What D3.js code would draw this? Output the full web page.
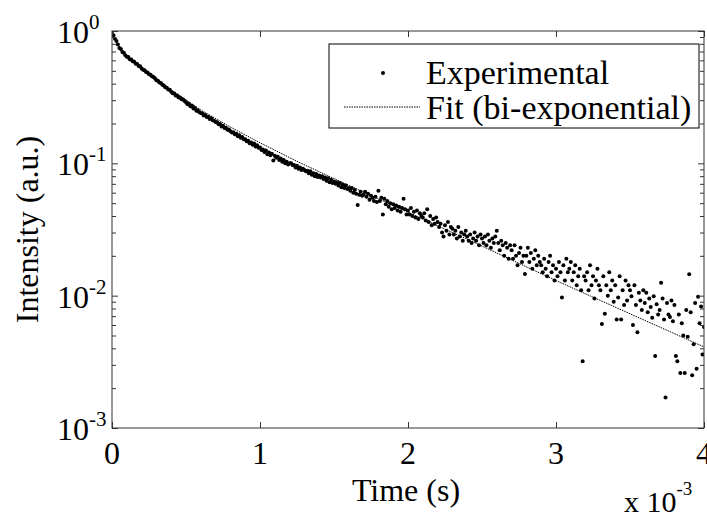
<!DOCTYPE html>
<html>
<head>
<meta charset="utf-8">
<script src="https://d3js.org/d3.v7.min.js"></script>
<style>
  body { margin: 0; background: #fff; }
  text { font-family: "Liberation Serif", "Times New Roman", serif; fill: #000; }
  .tick line { stroke: #333; }
</style>
</head>
<body>
<svg width="707" height="517"></svg>
<script>
// measured decay, one sample every 10 microseconds starting at t = 0
var sampleStep = 1e-5;
var intensity = [
  0.99, 0.93, 0.875, 0.84, 0.79, 0.745, 0.73, 0.695, 0.685, 0.655,
  0.64, 0.635, 0.612, 0.61, 0.59, 0.585, 0.565, 0.562, 0.545, 0.542,
  0.52, 0.51, 0.505, 0.49, 0.485, 0.472, 0.468, 0.455, 0.45, 0.44,
  0.425, 0.42, 0.408, 0.404, 0.392, 0.388, 0.376, 0.372, 0.362, 0.36,
  0.348, 0.338, 0.337, 0.326, 0.325, 0.315, 0.315, 0.305, 0.304, 0.296,
  0.29, 0.28, 0.281, 0.27, 0.272, 0.26, 0.262, 0.25, 0.252, 0.243,
  0.24, 0.238, 0.23, 0.232, 0.224, 0.225, 0.216, 0.219, 0.212, 0.21,
  0.205, 0.204, 0.197, 0.198, 0.19, 0.192, 0.185, 0.186, 0.179, 0.18,
  0.175, 0.171, 0.172, 0.166, 0.167, 0.16, 0.163, 0.156, 0.158, 0.152,
  0.152, 0.147, 0.148, 0.142, 0.144, 0.138, 0.141, 0.134, 0.137, 0.131,
  0.132, 0.126, 0.127, 0.122, 0.125, 0.117, 0.121, 0.115, 0.118, 0.105,
  0.114, 0.11, 0.112, 0.106, 0.109, 0.103, 0.106, 0.1, 0.103, 0.098,
  0.1, 0.1, 0.097, 0.097, 0.093, 0.096, 0.091, 0.093, 0.089, 0.091,
  0.089, 0.087, 0.088, 0.084, 0.087, 0.082, 0.084, 0.08, 0.083, 0.079,
  0.081, 0.078, 0.08, 0.076, 0.078, 0.074, 0.077, 0.072, 0.075, 0.071,
  0.073, 0.07, 0.072, 0.068, 0.071, 0.066, 0.069, 0.065, 0.068, 0.064,
  0.065, 0.062, 0.065, 0.06, 0.063, 0.059, 0.0484, 0.058, 0.061, 0.057,
  0.058, 0.061, 0.056, 0.059, 0.053, 0.057, 0.055, 0.052, 0.056, 0.051,
  0.062, 0.052, 0.055, 0.041, 0.054, 0.049, 0.052, 0.047, 0.05, 0.045,
  0.049, 0.046, 0.048, 0.044, 0.047, 0.043, 0.046, 0.054, 0.045, 0.041,
  0.044, 0.041, 0.046, 0.04, 0.043, 0.039, 0.044, 0.038, 0.042, 0.04,
  0.039, 0.042, 0.037, 0.045, 0.036, 0.04, 0.034, 0.038, 0.035, 0.039,
  0.036, 0.033, 0.035, 0.03, 0.028, 0.034, 0.031, 0.036, 0.029, 0.033,
  0.032, 0.029, 0.031, 0.027, 0.033, 0.028, 0.030, 0.026, 0.029, 0.031,
  0.028, 0.026, 0.029, 0.025, 0.027, 0.03, 0.026, 0.028, 0.024, 0.029,
  0.027, 0.025, 0.028, 0.024, 0.029, 0.026, 0.023, 0.027, 0.025, 0.028,
  0.031, 0.025, 0.022, 0.026, 0.024, 0.02, 0.025, 0.023, 0.019, 0.024,
  0.022, 0.019, 0.024, 0.02, 0.017, 0.021, 0.023, 0.018, 0.02, 0.0146,
  0.02, 0.023, 0.018, 0.021, 0.016, 0.019, 0.022, 0.017, 0.02, 0.018,
  0.017, 0.015, 0.019, 0.016, 0.014, 0.018, 0.02, 0.015, 0.017, 0.013,
  0.016, 0.014, 0.018, 0.015, 0.0097, 0.017, 0.013, 0.019, 0.015, 0.016,
  0.018, 0.013, 0.015, 0.017, 0.012, 0.014, 0.016, 0.011, 0.0032, 0.014,
  0.013, 0.015, 0.011, 0.017, 0.012, 0.014, 0.0095, 0.013, 0.016, 0.012,
  0.011, 0.0061, 0.014, 0.0073, 0.012, 0.01, 0.015, 0.011, 0.013, 0.009,
  0.012, 0.0066, 0.0097, 0.014, 0.0066, 0.011, 0.0085, 0.013, 0.0092, 0.012,
  0.011, 0.0099, 0.006, 0.012, 0.0085, 0.0053, 0.0105, 0.0092, 0.0078, 0.011,
  0.0088, 0.0105, 0.0075, 0.0095, 0.0082, 0.0068, 0.0099, 0.0035, 0.0086, 0.0072,
  0.0078, 0.0125, 0.0095, 0.0066, 0.0017, 0.0088, 0.0072, 0.0069, 0.0092, 0.0064,
  0.0085, 0.0035, 0.0032, 0.0072, 0.0026, 0.0062, 0.005, 0.0026, 0.0078, 0.0049,
  0.0145, 0.0075, 0.0025, 0.0043, 0.0088, 0.0028, 0.0098, 0.0062, 0.0083, 0.0036,
  0.0058
];

// bi-exponential fit
var fitTime = [0, 0.02e-3, 0.05e-3, 0.1e-3, 0.15e-3, 0.2e-3, 0.3e-3, 0.4e-3, 0.5e-3, 0.6e-3,
               0.8e-3, 1.0e-3, 1.25e-3, 1.5e-3, 2.0e-3, 2.5e-3, 3.0e-3, 3.5e-3, 4.0e-3];
var fitValue = [1, 0.88, 0.75, 0.646, 0.578, 0.525, 0.437, 0.359, 0.302, 0.253,
                0.188, 0.143, 0.1035, 0.0767, 0.0427, 0.0237, 0.013, 0.0073, 0.0041];

var xTicks = [0, 1e-3, 2e-3, 3e-3, 4e-3];
var xTickLabels = ["0", "1", "2", "3", "4"];
var yTicks = [1, 1e-1, 1e-2, 1e-3];
var yTickExponents = ["0", "-1", "-2", "-3"];
var legendLabels = ["Experimental", "Fit (bi-exponential)"];

var plotLeft = 112, plotRight = 704, plotTop = 31, plotBottom = 428;
var fontSize = 32, supSize = 21;
var svg = d3.select("svg");

var x = d3.scaleLinear().domain([0, 4e-3]).range([plotLeft, plotRight]);
var y = d3.scaleLog().domain([1e-3, 1]).range([plotBottom, plotTop]);

var points = intensity.map(function(v, i) { return [i * sampleStep, v]; });

var minorTicks = [];
[1e-3, 1e-2, 1e-1].forEach(function(d) {
  for (var k = 2; k <= 9; k++) minorTicks.push(k * d);
});

svg.append("clipPath").attr("id", "plot")
  .append("rect").attr("x", plotLeft).attr("y", plotTop)
  .attr("width", plotRight - plotLeft).attr("height", plotBottom - plotTop);

// data
svg.append("g").attr("clip-path", "url(#plot)")
  .selectAll("circle")
  .data(points)
  .enter()
  .append("circle")
  .attr("cx", function(d) { return x(d[0]); })
  .attr("cy", function(d) { return y(d[1]); })
  .attr("r", 2)
  .attr("fill", "#000");

var line = d3.line()
  .x(function(d) { return x(d[0]); })
  .y(function(d) { return y(d[1]); });

svg.append("path")
  .datum(fitTime.map(function(t, i) { return [t, fitValue[i]]; }))
  .attr("clip-path", "url(#plot)")
  .attr("d", line)
  .attr("fill", "none")
  .attr("stroke", "#000")
  .attr("stroke-width", 1)
  .attr("stroke-dasharray", "1.5,1");

// axes, ticks pointing inward on all four sides
function clean(g) {
  g.select(".domain").remove();
  g.selectAll("text").remove();
}
svg.append("g").attr("transform", "translate(0," + plotBottom + ")")
  .call(d3.axisBottom(x).tickValues(xTicks).tickSize(-6)).call(clean);
svg.append("g").attr("transform", "translate(0," + plotTop + ")")
  .call(d3.axisTop(x).tickValues(xTicks).tickSize(-6)).call(clean);
svg.append("g").attr("transform", "translate(" + plotLeft + ",0)")
  .call(d3.axisLeft(y).tickValues(yTicks).tickSize(-6)).call(clean);
svg.append("g").attr("transform", "translate(" + plotRight + ",0)")
  .call(d3.axisRight(y).tickValues(yTicks).tickSize(-6)).call(clean);
svg.append("g").attr("transform", "translate(" + plotLeft + ",0)")
  .call(d3.axisLeft(y).tickValues(minorTicks).tickSize(-4)).call(clean);
svg.append("g").attr("transform", "translate(" + plotRight + ",0)")
  .call(d3.axisRight(y).tickValues(minorTicks).tickSize(-4)).call(clean);

svg.append("rect").attr("x", plotLeft).attr("y", plotTop)
  .attr("width", plotRight - plotLeft).attr("height", plotBottom - plotTop)
  .attr("fill", "none").attr("stroke", "#333").attr("stroke-width", 1);

// tick labels
svg.selectAll(".xlab").data(xTicks).enter().append("text")
  .attr("x", function(d) { return x(d); })
  .attr("y", plotBottom + 36)
  .attr("text-anchor", "middle")
  .attr("font-size", fontSize)
  .text(function(d, i) { return xTickLabels[i]; });

var ylab = svg.selectAll(".ylab").data(yTicks).enter().append("text")
  .attr("x", 57)
  .attr("y", function(d) { return y(d) + 12; })
  .attr("font-size", fontSize);
ylab.append("tspan").text("10");
ylab.append("tspan").attr("dy", -14).attr("font-size", supSize)
  .text(function(d, i) { return yTickExponents[i]; });

// axis titles
svg.append("text")
  .attr("x", 406).attr("y", 501)
  .attr("text-anchor", "middle").attr("font-size", fontSize)
  .text("Time (s)");

svg.append("text")
  .attr("transform", "translate(38," + ((plotTop + plotBottom) / 2) + ") rotate(-90)")
  .attr("text-anchor", "middle").attr("font-size", fontSize)
  .text("Intensity (a.u.)");

var mult = svg.append("text").attr("x", 624).attr("y", 512).attr("font-size", 30);
mult.append("tspan").text("x 10");
mult.append("tspan").attr("dy", -17).attr("font-size", 19).text("-3");

// legend
var lg = svg.append("g");
lg.append("rect").attr("x", 329).attr("y", 44).attr("width", 370).attr("height", 84)
  .attr("fill", "#fff").attr("stroke", "#000").attr("stroke-width", 1);
lg.append("circle").attr("cx", 383).attr("cy", 73).attr("r", 2).attr("fill", "#000");
lg.append("line").attr("x1", 344).attr("x2", 420).attr("y1", 107).attr("y2", 107)
  .attr("stroke", "#000").attr("stroke-width", 1).attr("stroke-dasharray", "1.5,1");
lg.selectAll(".lt").data(legendLabels).enter().append("text")
  .attr("x", 426)
  .attr("y", function(d, i) { return 84 + i * 35; })
  .attr("font-size", 34)
  .text(function(d) { return d; });
</script>
</body>
</html>
